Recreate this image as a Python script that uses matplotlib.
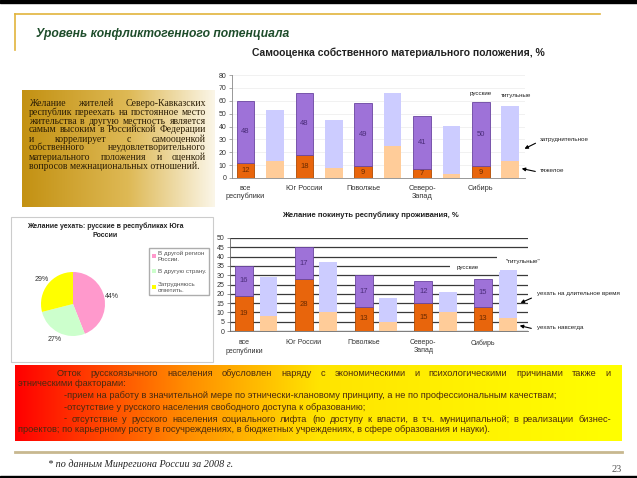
import numpy as np
import matplotlib
matplotlib.use('Agg')
import matplotlib.pyplot as plt
from matplotlib.patches import Rectangle
from matplotlib.colors import to_rgb

# --- data ---
regions = ['все\nреспублики', 'Юг России', 'Поволжье', 'Северо-\nЗапад', 'Сибирь']

# Самооценка собственного материального положения, %
own_heavy_ru = [12, 18, 9, 7, 9]       # тяжелое, русские
own_hard_ru = [48, 48, 49, 41, 50]     # затруднительное, русские
own_heavy_tit = [13, 8, 25, 3, 13]     # тяжелое, титульные
own_hard_tit = [40, 37, 41, 37, 43]    # затруднительное, титульные

# Желание покинуть республику проживания, %
leave_forever_ru = [19, 28, 13, 15, 13]
leave_long_ru = [16, 17, 17, 12, 15]
leave_forever_tit = [8, 10, 5, 10, 7]
leave_long_tit = [21, 27, 13, 11, 26]

# Желание уехать: русские в республиках Юга России
pie_labels = ['В другой регион\nРоссии.', 'В другую страну.', 'Затрудняюсь\nответить.']
pie_values = [44, 27, 29]

text_box_lines = ['Желание жителей Северо-Кавказских',
                  'республик переехать на постоянное место',
                  'жительства в другую местность является',
                  'самым высоким в Российской Федерации',
                  'и коррелирует с самооценкой',
                  'собственного неудовлетворительного',
                  'материального положения и оценкой',
                  'вопросов межнациональных отношений.']

W, H = 637, 478
plt.rcParams['font.family'] = ['Liberation Sans', 'DejaVu Sans']

fig = plt.figure(figsize=(W / 100, H / 100), dpi=100)
bg = fig.add_axes([0, 0, 1, 1])
bg.set_autoscale_on(False)
bg.set_xlim(0, W)
bg.set_ylim(H, 0)
bg.axis('off')
renderer = fig.canvas.get_renderer()


def px_axes(x0, y0, x1, y1):
    ax = fig.add_axes([x0 / W, 1 - y1 / H, (x1 - x0) / W, (y1 - y0) / H])
    ax.patch.set_visible(False)
    return ax


def gradient(x0, y0, x1, y1, stops):
    xs = np.linspace(0, 1, 256)
    pos = [s[0] for s in stops]
    cols = np.array([to_rgb(s[1]) for s in stops])
    img = np.stack([np.interp(xs, pos, cols[:, k]) for k in range(3)], axis=-1)[None]
    bg.imshow(img, extent=(x0, x1, y1, y0), aspect='auto', zorder=0, interpolation='bilinear')


def justify(line, x0, x1, y, **kw):
    words = line.split()
    ts = [bg.text(0, y, w, va='center', **kw) for w in words]
    ws = [t.get_window_extent(renderer).width for t in ts]
    gap = (x1 - x0 - sum(ws)) / max(len(words) - 1, 1)
    x = x0
    for t, w in zip(ts, ws):
        t.set_x(x)
        x += w + gap


# --- slide frame ---
bg.add_patch(Rectangle((0, 0), W, 3, color='black'))
bg.add_patch(Rectangle((0, 476), W, 2, color='black'))
bg.plot([15, 600], [14, 14], color='#E2B43C', lw=1.2)
bg.plot([15, 15], [14, 50], color='#E2B43C', lw=1.2)
bg.text(36, 34, 'Уровень конфликтогенного потенциала', fontsize=8.7, style='italic',
        weight='bold', color='#1E4D2B', va='center')

# gold text box
gradient(22, 90, 215, 207, [(0, '#C39112'), (0.55, '#DEB955'), (1, '#FBF6E8')])
serif = dict(family='Liberation Serif', fontsize=7, color='#2B1D05')
for i, line in enumerate(text_box_lines):
    y = 103 + 9 * i
    if i < len(text_box_lines) - 1:
        justify(line, 29, 206, y, **serif)
    else:
        bg.text(29, y, line, va='center', **serif)

# bottom box
gradient(15, 365, 622, 441, [(0, '#FF0000'), (0.28, '#FF8C00'), (0.5, '#FFE400'), (1, '#FFFF00')])
sans = dict(fontsize=6.7, color='#4A2A10')
justify('Отток русскоязычного населения обусловлен наряду с экономическими и психологическими причинами также и',
        57, 611, 373, **sans)
bg.text(18, 384, 'этническими факторами:', va='center', **sans)
bg.text(64, 396, '-прием на работу в значительной мере по этнически-клановому принципу, '
        'а не по профессиональным качествам;', va='center', **sans)
bg.text(64, 407, '-отсутствие у русского населения свободного доступа к образованию;', va='center', **sans)
justify('- отсутствие у русского населения социального лифта (по доступу к власти, в т.ч. муниципальной; '
        'в реализации бизнес-', 64, 611, 419, **sans)
bg.text(18, 430, 'проектов; по карьерному росту в госучреждениях, в бюджетных учреждениях, '
        'в сфере образования и науки).', va='center', **sans)

bg.plot([15, 622], [452, 452], color='#C8B88F', lw=2)
bg.text(48, 464, '* по данным Минрегиона России за 2008 г.', family='Liberation Serif',
        style='italic', fontsize=7.3, va='center', color='#222')
bg.text(622, 470, '23', family='Liberation Serif', fontsize=7.5, color='#555', ha='right', va='center')

# --- chart 1 ---
bg.text(398, 53, 'Самооценка собственного материального положения, %', weight='bold',
        fontsize=7.5, ha='center', va='center', color='#222')
ax1 = px_axes(232, 75, 525, 178)
ru = np.arange(5) * 2
tit = ru + 1
ax1.bar(ru, own_heavy_ru, 0.6, color='#E8650C', edgecolor='#B04A00', lw=0.6, zorder=3)
ax1.bar(ru, own_hard_ru, 0.6, bottom=own_heavy_ru, color='#9E72D8', edgecolor='#6A45A0', lw=0.6, zorder=3)
ax1.bar(tit, own_heavy_tit, 0.6, color='#FFCC99', lw=0, zorder=3)
ax1.bar(tit, own_hard_tit, 0.6, bottom=own_heavy_tit, color='#CCCCFF', lw=0, zorder=3)
for x, b, t in zip(ru, own_heavy_ru, own_hard_ru):
    ax1.text(x, b / 2, str(b), ha='center', va='center', fontsize=5.5, color='#6A2A00', zorder=4)
    ax1.text(x, b + t / 2, str(t), ha='center', va='center', fontsize=5.5, color='#4B2C7A', zorder=4)
ax1.set_xlim(-0.46, 9.5)
ax1.set_ylim(0, 80)
ax1.set_yticks(range(0, 81, 10))
ax1.set_xticks(ru)
ax1.set_xticklabels(regions)
ax1.grid(axis='y', color='#ececec', lw=0.5, zorder=0)
for s in ['top', 'right']:
    ax1.spines[s].set_visible(False)
for s in ['left', 'bottom']:
    ax1.spines[s].set_color('#888')
    ax1.spines[s].set_linewidth(0.6)
ax1.tick_params(axis='y', labelsize=5, length=2, width=0.5, colors='#888', labelcolor='#333', pad=2)
ax1.tick_params(axis='x', labelsize=5.3, length=0, labelcolor='#333', pad=5)

small = dict(fontsize=4.5, color='#222', va='center')
bg.text(481, 93, 'русские', ha='center', **small)
bg.text(516, 95, 'титульные', ha='center', **small)
bg.text(540, 139, 'затруднительное', **small)
bg.text(540, 171, 'тяжелое', **small)
arrow = dict(arrowstyle='-|>', color='black', lw=0.8, mutation_scale=5)
bg.annotate('', xy=(522, 150), xytext=(538, 142), arrowprops=arrow)
bg.annotate('', xy=(519, 168), xytext=(538, 172), arrowprops=arrow)

# --- chart 2 ---
bg.text(370, 215, 'Желание покинуть республику проживания, %', weight='bold',
        fontsize=5.5, ha='center', va='center', color='#222')
ax2 = px_axes(230, 238, 528, 331)
ru2 = np.arange(5)
tit2 = ru2 + 0.41
ax2.bar(ru2, leave_forever_ru, 0.30, color='#E8650C', edgecolor='#B04A00', lw=0.6, zorder=3)
ax2.bar(ru2, leave_long_ru, 0.30, bottom=leave_forever_ru, color='#9E72D8', edgecolor='#6A45A0', lw=0.6, zorder=3)
ax2.bar(tit2, leave_forever_tit, 0.30, color='#FFCC99', lw=0, zorder=3)
ax2.bar(tit2, leave_long_tit, 0.30, bottom=leave_forever_tit, color='#CCCCFF', lw=0, zorder=3)
for x, b, t in zip(ru2, leave_forever_ru, leave_long_ru):
    ax2.text(x, b / 2, str(b), ha='center', va='center', fontsize=5.5, color='#6A2A00', zorder=4)
    ax2.text(x, b + t / 2, str(t), ha='center', va='center', fontsize=5.5, color='#4B2C7A', zorder=4)
ax2.set_xlim(-0.234, 4.75)
ax2.set_ylim(0, 50)
ax2.set_yticks(range(0, 51, 5))
ax2.set_xticks(ru2)
ax2.set_xticklabels(regions)
ax2.grid(axis='y', color='#3a3a3a', lw=0.9, zorder=0)
for s in ['top', 'right']:
    ax2.spines[s].set_visible(False)
for s in ['left', 'bottom']:
    ax2.spines[s].set_color('#666')
    ax2.spines[s].set_linewidth(0.6)
ax2.tick_params(axis='y', labelsize=5, length=2, width=0.5, colors='#666', labelcolor='#333', pad=2)
ax2.tick_params(axis='x', labelsize=5, length=0, labelcolor='#333', pad=6)

for x0, y0, x1, y1 in [(450, 259, 500, 272), (497, 249, 545, 268)]:
    fig.add_artist(Rectangle((x0 / W, 1 - y1 / H), (x1 - x0) / W, (y1 - y0) / H,
                             transform=fig.transFigure, facecolor='white', lw=0, zorder=1))
fig.text(468 / W, 1 - 267 / H, 'русские', ha='center', va='center', fontsize=4.5, color='#222', zorder=3)
fig.text(523 / W, 1 - 262 / H, '"титульные"', ha='center', va='center', fontsize=4.5, color='#222', zorder=3)
bg.text(537, 294, 'уехать на длительное время', **small)
bg.text(537, 328, 'уехать навсегда', **small)
bg.annotate('', xy=(518, 304), xytext=(534, 297), arrowprops=arrow)
bg.annotate('', xy=(517, 325), xytext=(534, 329), arrowprops=arrow)

# --- pie ---
bg.add_patch(Rectangle((11, 217), 202, 145, facecolor='white', edgecolor='#cccccc', lw=0.8, zorder=0.5))
bg.text(105, 226, 'Желание уехать: русские в республиках Юга', weight='bold', fontsize=5,
        ha='center', va='center', color='#222')
bg.text(105, 235, 'России', weight='bold', fontsize=5, ha='center', va='center', color='#222')
ax3 = px_axes(33, 264, 113, 344)
wedges, _, autotexts = ax3.pie(pie_values, colors=['#FF99CC', '#CCFFCC', '#FFFF00'], startangle=90,
                               counterclock=False, autopct='%d%%', pctdistance=1.25,
                               textprops=dict(fontsize=5, color='#333'))
ax3.set_aspect('equal')
fig.legend(wedges, pie_labels, loc='upper left', bbox_to_anchor=(146 / W, 1 - 245 / H),
           fontsize=4.5, frameon=True, fancybox=False, edgecolor='#999', handlelength=0.7,
           handleheight=0.7, labelspacing=1.2, borderpad=0.4, handletextpad=0.3,
           labelcolor='#555')

bg.set_xlim(0, W)
bg.set_ylim(H, 0)
fig.savefig('out.png', dpi=100)
